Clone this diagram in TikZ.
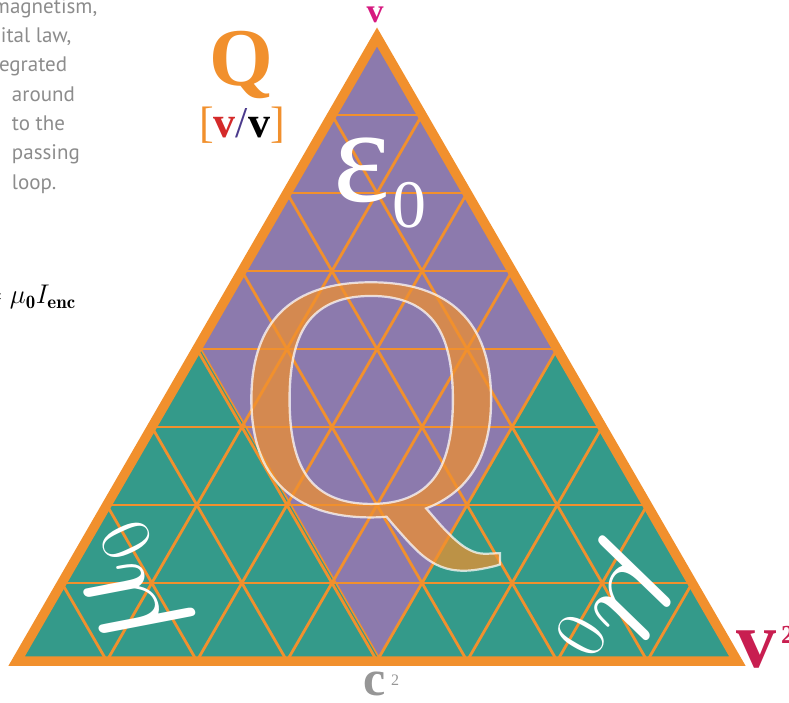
\RequirePackage{fix-cm}
\documentclass[tikz,border=0pt]{standalone}
\usepackage{fontspec}
\newfontfamily\timesfont{Liberation Serif}
\newfontfamily\notefont{PT Sans}
\usepackage{tikz}
\usetikzlibrary{calc}

\definecolor{triorange}{RGB}{241,144,45}
\definecolor{trigreen}{RGB}{52,154,138}
\definecolor{tripurple}{RGB}{140,122,173}
\definecolor{labelgray}{RGB}{150,150,150}
\definecolor{notegray}{RGB}{140,140,140}
\definecolor{vmagenta}{RGB}{214,25,127}
\definecolor{vcrimson}{RGB}{200,30,80}
\definecolor{vred}{RGB}{212,42,42}
\definecolor{slashpurple}{RGB}{75,58,140}

\begin{document}
\begin{tikzpicture}[x=1pt,y=1pt,
  gridline/.style={draw=triorange,line width=2.8pt},
  rim/.style={draw=triorange,line width=9.5pt,line join=miter},
  glyph/.style={inner sep=0pt,outer sep=0pt},
  note/.style={glyph,anchor=base west,text=notegray,font=\notefont\fontsize{21}{21}\selectfont}
]
  \useasboundingbox (0,0) rectangle (789,702);

  % corners of the big triangle
  \coordinate (A) at (377,665);
  \coordinate (L) at (16.7,41);
  \coordinate (R) at (737.3,41);
  \coordinate (ml) at ($(A)!0.5!(L)$);
  \coordinate (mr) at ($(A)!0.5!(R)$);
  \coordinate (mb) at ($(L)!0.5!(R)$);

  \begin{scope}
    \clip (A) -- (L) -- (R) -- cycle;
    \fill[trigreen] (A) -- (L) -- (R) -- cycle;
    \fill[tripurple] (A) -- (ml) -- (mb) -- (mr) -- cycle;
    \fill[trigreen] (ml) -- ([xshift=4pt]ml) -- ([xshift=4pt]mb) -- (mb) -- cycle;
    \foreach \i in {1,...,7}{
      \draw[gridline] ($(L)!\i/8!(A)$) -- ($(R)!\i/8!(A)$);
      \draw[gridline] ($(L)!\i/8!(R)$) -- ($(A)!\i/8!(R)$);
      \draw[gridline] ($(R)!\i/8!(L)$) -- ($(A)!\i/8!(L)$);
    }
    \draw[gridline,line width=1.6pt] ([xshift=4pt]ml) -- ([xshift=4pt]mb);
  \end{scope}

  % the big letter
  \begin{scope}[opacity=0.72]
    \node[glyph,anchor=base west,text=triorange] (bigq) at (236,188)
      {\timesfont\fontsize{350}{350}\selectfont\special{pdf:literal direct 1 1 1 RG 2.2 w 2 Tr}\scalebox{1.07}[1]{Q}\special{pdf:literal direct 0 Tr}};
  \end{scope}

  \node[glyph,anchor=base west,text=white] (eps) at (333,500) {\timesfont\fontsize{135}{135}\selectfont ε};
  \node[glyph,anchor=base west,text=white] (epszero) at (392,474) {\timesfont\fontsize{68}{68}\selectfont 0};
  \node[glyph,text=white,rotate=115] (muleft) at (130,117) {\fontsize{145}{145}\selectfont$\mu_{\scriptscriptstyle 0}$};
  \node[glyph,text=white,rotate=240] (muright) at (616,95) {\fontsize{145}{145}\selectfont$\mu_{\scriptscriptstyle 0}$};

  \draw[rim] (A) -- (L) -- (R) -- cycle;

  % labels round the triangle
  \node[glyph,anchor=base,text=vmagenta] (topv) at (375,679) {\timesfont\bfseries\fontsize{34}{34}\selectfont v};
  \node[glyph,anchor=base,text=triorange] (qunit) at (241,616) {\timesfont\bfseries\fontsize{82}{82}\selectfont Q};
  \node[glyph,anchor=base] (qdim) at (242,564) {\timesfont\fontsize{44}{44}\selectfont
    \textcolor{triorange}{[}\textcolor{vred}{\bfseries v}\textcolor{slashpurple}{/}{\bfseries v}\textcolor{triorange}{]}};
  \node[glyph,anchor=base,text=labelgray] (cc) at (375,7) {\timesfont\bfseries\fontsize{50}{50}\selectfont c};
  \node[glyph,anchor=base west,text=labelgray] (ctwo) at (391,17) {\timesfont\fontsize{16}{16}\selectfont 2};
  \node[glyph,anchor=base west,text=vcrimson] (vsq) at (736,35) {\timesfont\bfseries\fontsize{80}{80}\selectfont v};
  \node[glyph,anchor=base west,text=vcrimson] (vtwo) at (781,59) {\timesfont\bfseries\fontsize{26}{26}\selectfont 2};

  % cut-off note on the left
  \node[note] (n1) at (-7,688) {magnetism,};
  \node[note] (n2) at (1,659) {ital law,};
  \node[note] (n3) at (-1,630) {egrated};
  \node[note] (n4) at (12,600) {around};
  \node[note] (n5) at (12,571) {to the};
  \node[note] (n6) at (12,542) {passing};
  \node[note] (n7) at (12,512) {loop.};
  \node[glyph,anchor=base west] (ampere) at (-17,398) {\fontsize{27}{27}\selectfont$= \mu_{\mathbf{0}}I_{\mathbf{enc}}$};
\end{tikzpicture}
\end{document}
